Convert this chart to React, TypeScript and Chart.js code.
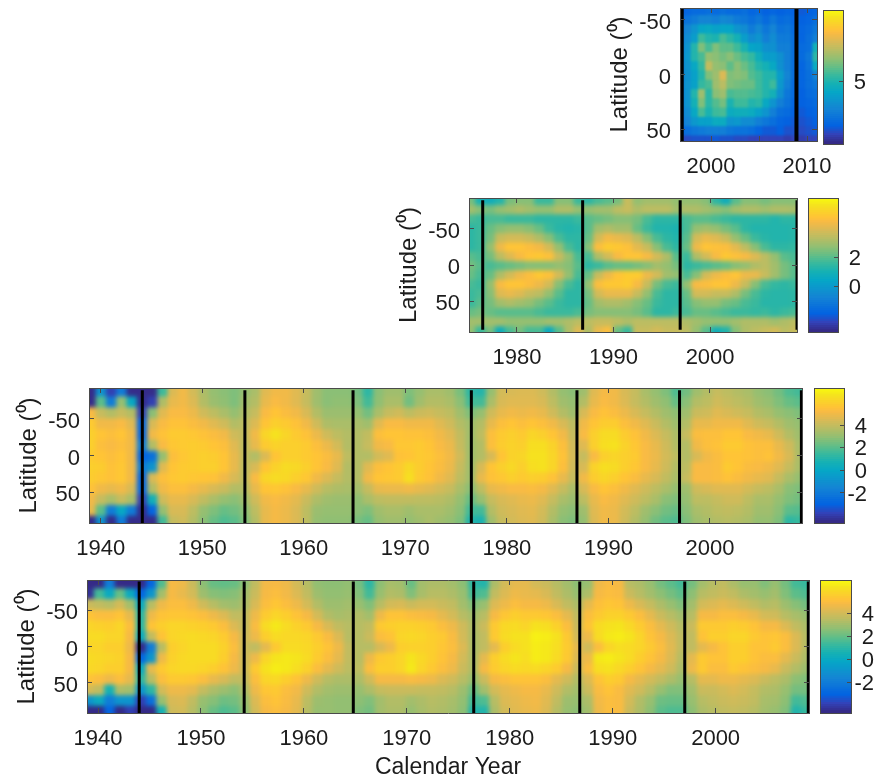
import React, { useEffect, useRef } from "react";
import { Chart, registerables } from "chart.js";
Chart.register(...registerables);

// ---- tick labels and axis limits ----
const latTicks = [-50, 0, 50];
const p1XTicks = [2000, 2005, 2010];
const p1XLabels = [2000, 2010];
const p2XTicks = [1980, 1990, 2000];
const longXTicks = [1940, 1950, 1960, 1970, 1980, 1990, 2000];
const p1Cb = [5];
const p2Cb = [2, 0];
const longCb = [4, 2, 0, -2];

// ---- black vertical cycle markers (year) ----
const p1Marks = [1996.95, 2008.9];
const p2Marks = [1976.45, 1986.8, 1996.9, 2009];
const p3Marks = [1944.1, 1954.2, 1964.85, 1976.5, 1986.9, 1997, 2009];
const p4Marks = [1944.0, 1954.2, 1964.8, 1976.5, 1986.8, 1997, 2009];

// ---- panel 1: 20 columns (1997-2011), 15 latitude bands (-61..61) ----
const p1A = [2.7,2.9,3.0,3.0,3.1,3.0,3.1,3.0,3.0,3.1,2.9,3.0,2.8,2.9,2.8,2.9,2.8,2.7,2.8,2.9];
const p1B = [2.9,3.2,3.4,3.6,3.6,3.5,3.7,3.6,3.4,3.3,3.1,3.3,3.0,3.3,3.0,3.1,2.9,2.8,2.9,3.1];
const p1C = [3.1,3.6,4.0,4.4,4.5,4.3,4.4,4.4,4.0,3.8,3.4,3.7,3.3,3.6,3.2,3.3,3.0,2.9,3.0,3.3];
const p1D = [3.1,3.8,4.2,5.3,5.0,4.9,5.4,5.1,4.8,4.2,3.8,4.0,3.5,3.8,3.4,3.4,3.1,2.9,3.1,3.5];
const p1E = [3.1,4.0,5,5.9,5.4,5.9,5.6,5.6,5.3,4.9,4.4,4.3,3.9,3.9,3.5,3.5,3.1,3.0,3.1,4.8];
const p1F = [3.1,4.1,5,5.4,6.1,6,5.8,6,5.7,5.4,5.2,4.7,4.2,4.2,3.9,3.5,3.1,3.0,3.3,5.1];
const p1G = [3.1,4.0,4.5,5.2,6.6,6.1,6,5.6,6,5.7,5.4,5,4.8,4.5,3.9,3.5,3.1,2.9,3.2,4.6];
const p1H = [3.1,3.9,4.3,5,5.9,6.2,6.9,5.9,6,5.9,5.5,5.3,5,5,4.2,3.6,3.1,2.9,3.1,3.6];
const p1I = [3.1,4.0,4.3,5.2,5.4,6.2,6.5,5.9,5.8,5.7,5.7,5.3,5,5.3,4.1,3.5,3.0,2.9,3.1,3.3];
const p1J = [3.1,4.0,5,6.2,5.1,6,6.2,5.4,5.5,5.5,5.4,5.3,5,4.8,3.9,3.3,3.0,2.8,3.0,3.1];
const p1K = [3.1,4.0,4.8,5.9,5.1,5.5,5.8,4.9,5.3,5.3,5,5.1,4.5,4,3.5,3.2,2.9,2.8,2.9,3.0];
const p1L = [3.1,3.8,4.5,5.4,4.9,5.3,5.4,4.6,4.7,4.7,4.6,4.3,4,3.5,3.1,3.0,2.8,2.7,2.8,2.9];
const p1M = [3.0,3.6,4.1,4.3,4.3,4.6,4.6,4.0,4.1,3.8,3.8,3.5,3.3,3.1,2.9,2.8,2.7,2.6,2.7,2.8];
const p1N = [2.8,3.1,3.3,3.4,3.5,3.5,3.5,3.3,3.2,3.2,3.1,2.9,2.7,2.7,2.8,2.6,2.6,2.5,2.6,2.7];
const p1O = [2.4,2.5,2.6,2.6,2.6,2.7,2.6,2.6,2.5,2.5,2.4,2.4,2.4,2.4,2.4,2.3,2.4,2.3,2.4,2.4];
const p1Rows = [p1A,p1B,p1C,p1D,p1E,p1F,p1G,p1H,p1I,p1J,p1K,p1L,p1M,p1N,p1O];

// ---- panel 2: 34 yearly columns (1975-2008), 15 latitude bands ----
const p2A = [2.4,1,0.8,1.2,2.4,2.6,2.6,1.6,1.6,2.6,2.6,1.6,1.4,1.8,2,2.4,3.6,2.8,3,3,3,2.8,2.8,2.8,2.6,1.4,0.8,2,2.6,2.6,2.4,2.6,2.6,2.6];
const p2B = [3,2.6,2.4,2.8,3,3.2,3,2.8,2.8,3.2,3.2,2.8,2.8,3,3,3.4,3.6,3.2,3.4,3.4,3.4,3,3.2,3.2,3,2.8,2.6,3,3.2,3.2,3,3.2,3.2,3.1];
const p2C = [1.8,1.6,1.8,1.8,1.6,1.6,1.6,1.4,1.4,1.4,1.4,1.6,2,2.2,2.4,2.6,2.6,2.4,1.8,1.4,1.4,1.4,1.8,2,2,1.8,1.6,1.4,1.4,1.4,1.4,1.2,1.4,1.4];
const p2D = [1.4,1.6,2.2,2.6,2.8,2.8,2.6,2.2,1.6,1.3,1.2,1.3,2,3.0,3.2,3.0,3,2.2,1.6,1.2,1.2,1.1,1.8,2.8,3,2.8,2.4,2,1.4,1.2,1.2,1.2,1.2,1.3];
const p2E = [1.4,1.6,2.4,3.6,3.8,3.8,3.6,3.2,2.6,1.8,1.4,1.4,2.2,3.8,4.4,4.2,4,3.4,2.6,1.8,1.4,1.2,2,3.8,4.2,4,3.6,2.8,2.2,1.6,1.3,1.2,1.2,1.3];
const p2F = [1.4,1.6,2.8,4.3,4.8,4.8,4.6,4.4,3.8,2.8,1.8,1.4,2.6,4.6,5,4.9,4.7,4.1,3.6,2.6,1.8,1.4,2.2,4.3,4.8,4.7,4.6,4.1,3.4,2.6,1.8,1.4,1.4,1.5];
const p2G = [2,1.8,2.4,3.4,4,4.5,4.8,4.9,4.7,3.6,2.8,1.8,1.8,3.2,3.8,4.5,4.8,4.8,4.5,3.8,3.2,2,1.6,3.2,3.8,4.5,4.9,4.7,4.5,4,3.4,2.8,2,1.8];
const p2H = [2.4,2,1.8,2,2.2,2.4,2.6,2.6,2.6,2.8,2.6,2,1.4,1.6,2,2.2,2.2,2.4,2.6,3,2.8,2.4,1.4,1.6,1.8,2,2.2,2.6,2.8,3.2,3.4,3,2.4,2];
const p2I = [2.2,1.8,2.2,3.2,3.8,4.3,4.6,4.9,4.7,3.8,2.8,1.8,2.2,3.6,4.3,4.8,5,5,4.3,3.8,3,2.8,1.8,2.6,3.8,4.3,4.6,4.8,4.3,4.2,3.6,3,2.4,2];
const p2J = [1.8,1.6,2.8,4.5,4.8,4.8,4.6,4.3,3.8,2.6,1.8,1.4,2.8,4.6,4.9,4.9,5,4.5,3.6,2.4,1.8,1.6,2.8,4.5,4.6,4.8,4.8,4.3,3.6,2.6,1.8,1.5,1.4,1.6];
const p2K = [1.6,1.8,2.6,4,4.2,4,3.6,3.4,2.8,2,1.4,1.4,2.4,3.8,4.2,4.2,4.2,3.6,2.8,1.8,1.4,1.4,2.2,3.8,3.8,3.6,3.6,3.2,2.4,1.8,1.4,1.3,1.3,1.4];
const p2L = [1.6,2,2.4,3,3.2,3.0,2.8,2.4,2,1.6,1.4,1.4,2.2,3,3.2,3.2,3,2.6,2.2,1.6,1.4,1.4,2,2.6,2.8,2.8,2.4,2.2,1.8,1.6,1.3,1.3,1.3,1.4];
const p2M = [2.2,2.4,2.2,2,2,2,2,1.8,1.6,1.6,1.6,1.8,2.4,2.6,2.6,2.6,2.6,2.4,2,1.4,1.4,1.6,1.8,2.2,2.2,2,1.8,1.6,1.6,1.5,1.6,1.4,1.6,1.8];
const p2N = [3,3,3,3,2.8,2.8,2.8,2.8,3,3,3.2,3.4,3.4,3.6,3.6,3.4,3.2,3.4,3.4,3.4,3.4,3.4,3.2,3,2.8,2.8,2.8,3,3.2,3.2,3.2,3,3.2,3.4];
const p2O = [2.8,1.6,2.4,0.8,1.8,2.4,1.8,1.8,0.6,2,3.2,4,3.2,4.2,4.6,2.2,1.6,3.6,3.6,3.8,3.6,3.6,3.4,2.8,2,0.9,1.2,2.6,3.2,3.4,3.6,3.8,3.4,3.6];
const p2Rows = [p2A,p2B,p2C,p2D,p2E,p2F,p2G,p2H,p2I,p2J,p2K,p2L,p2M,p2N,p2O];

// ---- panel 3: 70 yearly columns (1939-2008), 13 latitude bands ----
const p3A = [-4.6,-1,-4,-2,-4.6,-4.6,-4.6,1.5,4.5,5, 4.3,3.5,3,2.8,2.6,3,3.4,4.6,5,5, 4.6,4,3.2,2.8,2.8,2.8,2.4,1.2,2.8,3.2, 3.2,2.6,3,3.4,3.4,3.2,2.5,1.2,1,3, 4.3,4.4,4.5,4.5,4.2,3.6,3,2.8,3.2,4.6, 5.1,5,4.4,4,3.4,3,2.6,1.8,2.4,3.2, 3.6,4,3.8,3.6,3.4,3,2.8,2.4,1.8,1.6];
const p3B = [-4.6,2,-2,3,0,-4.6,-4,3.5,4.8,5, 4.5,3.6,3.1,2.9,2.6,3.2,3.6,4.8,5.2,5, 4.6,4,3.2,2.8,2.9,2.9,2.6,1.6,2.9,3.4, 3.4,2.4,3.2,3.6,3.6,3.4,2.8,1.6,1.6,3.4, 4.4,4.6,4.6,4.6,4.4,3.8,3.2,3,3.6,4.8, 5.2,5,4.5,4,3.6,3.2,2.9,2.2,2.8,3.6, 3.8,4.2,4,3.8,3.6,3.2,3,2.6,2.2,2];
const p3C = [5.2,4,3.6,4,3.6,-4,2.8,4.6,5.2,5.2, 4.9,4.2,3.8,3.4,3,3.5,4,5.2,5.6,5.3, 5,4.4,3.6,3.1,3.1,3.1,3,2.4,3.4,4, 4.2,3.8,4.1,4.2,4,3.8,3.2,2.6,3,4.2, 4.8,5,4.9,5,4.8,4.2,3.6,3.2,4.4,5.2, 5.5,5.3,4.9,4.4,4,3.6,3.2,2.9,3.2,4.1, 4.2,4.6,4.4,4.2,4,3.6,3.4,3,2.8,2.6];
const p3D = [5.8,5,5,5.2,4.6,-3,4.4,5.2,5.5,5.5, 5.3,5,4.6,4.2,3.6,3.8,4.5,5.6,6,5.8, 5.5,5,4.2,3.5,3.4,3.4,3.4,3.2,4.6,5.2, 5.2,5,5,5,4.6,4.2,3.6,3.2,3.6,4.8, 5.4,5.6,5.4,5.6,5.4,5,4.4,3.8,5,5.6, 5.9,5.9,5.4,5,4.6,4.1,3.6,3.2,3.6,4.8, 4.8,5,5,5,4.6,4.2,4,3.6,3.2,3];
const p3E = [6,5.6,5.4,5.6,5,-3,5,5.5,5.8,5.8, 5.7,5.5,5.3,5,4.2,3.9,5,6.2,6.6,6.2, 5.8,5.5,4.9,4.2,3.8,3.6,3.6,3.9,5.4,5.6, 5.6,5.5,5.5,5.4,5,4.6,3.9,3.2,3.8,5.4, 5.8,6,5.8,6.2,6,5.6,5,4,5.2,6, 6.4,6.4,5.9,5.5,5,4.5,4,3.5,4,5.3, 5.4,5.4,5.6,5.6,5.2,5,4.8,4.2,3.6,3.2];
const p3F = [6,5.4,5.2,5.4,5,-2,3.6,5.2,5.7,5.8, 5.9,5.8,5.6,5.4,4.6,3.8,4.8,5.8,6.1,6, 6,5.8,5.4,4.9,4.3,3.6,3.6,4,5,5.2, 5.7,5.7,5.8,5.6,5.2,4.9,4,3.2,3.6,5.4, 5.9,6.1,6,6.5,6.5,6.1,5.4,4.2,4.6,6, 6.5,6.6,6.1,5.7,5.2,4.8,4.2,3.6,3.6,5, 5.4,5.5,5.8,5.8,5.5,5.4,5.4,4.8,4.2,3.4];
const p3G = [5.8,5.6,5.4,5.6,5,-3,-2.5,3,5.4,5.7, 5.9,6,5.9,5.6,4.8,3.9,3.6,4.5,5.6,6, 6,5.8,5.6,5.3,4.8,3.8,3.6,3.6,4.3,4.6, 5.5,5.6,5.8,5.7,5.4,5,4.2,3.2,3.6,4.4, 5.6,6.1,6.2,6.6,6.6,6.2,5.5,4.3,4,5.2, 6,6.2,6,5.8,5.2,4.9,4.3,3.8,3.6,4.4, 5,5.3,5.6,5.6,5.5,5.4,5.5,5,4.4,3.5];
const p3H = [6,5.9,5.5,5.7,5,-2,-1,4.6,5.6,5.8, 5.9,6,6,5.6,4.8,3.8,4.4,5.6,6.1,6.4, 6.3,6,5.6,5.2,4.6,3.6,3.6,4.6,5.4,5.6, 5.8,6.3,5.9,5.6,5.3,4.9,4,3.2,4.4,5.6, 6,6.3,6,6.5,6.6,6.2,5.4,4.2,4.4,6.1, 6.5,6.4,6,5.7,5.2,4.8,4.2,3.6,3.8,5.2, 5.2,5.3,5.8,5.6,5.3,5.2,5,4.6,4,3.4];
const p3I = [5.9,5.7,5.5,5.7,5,-3,4.4,5.4,5.7,5.8, 5.7,5.6,5.5,5,4.4,3.8,5.2,6.2,6.4,6.3, 6,5.7,5,4.5,4,3.6,3.6,5,5.6,5.7, 5.8,6.5,5.8,5.5,5,4.6,3.8,3.2,4.8,5.5, 5.7,6,5.8,6,5.9,5.5,4.8,4,5,5.9, 6.2,6,5.6,5.3,4.8,4.4,3.9,3.4,4,5.2, 5.2,5.3,5.5,5.3,5,4.8,4.6,4,3.4,3];
const p3J = [5.5,5,4.8,5,4.4,-3,3.6,5,5.4,5.4, 5.1,4.8,4.4,4.1,3.6,3.6,4.8,5.6,5.7,5.5, 5.2,4.8,4.2,3.7,3.5,3.4,3.3,4,4.8,4.9, 4.9,5,4.8,4.6,4.3,4,3.4,2.8,3.8,4.8, 5,5.2,5.2,5.3,5.1,4.6,4,3.4,4.4,5.2, 5.6,5.4,5,4.6,4.2,3.8,3.4,3,3.2,4.2, 4.4,4.6,4.6,4.6,4.3,4,3.8,3.4,2.8,2.6];
const p3K = [5,4,3.4,4,3.4,-4,0.5,4.2,4.8,4.8, 4.4,3.9,3.4,3,2.8,3.2,4.2,5,5.2,5, 4.7,4.1,3.5,3.2,3.1,3.1,2.9,3.4,3.8,3.9, 3.9,3.9,3.8,3.8,3.7,3.5,3,2.2,3,4, 4.4,4.6,4.8,4.9,4.6,4,3.4,3.1,3.8,4.8, 5.2,5,4.6,4.2,3.8,3.4,2.8,2.6,3,3.8, 3.8,4,4.2,4.2,3.8,3.4,3.4,3,2.6,2.4];
const p3L = [4.8,2,-2,0,-2,-4.6,-3,3,4.4,4.4, 3.8,3,2.6,2.2,2.4,2.8,3.8,4.8,5.1,4.9, 4.5,3.8,3.1,3,3,3,2.8,2.6,3.2,3.4, 3.4,3.2,3.4,3.4,3.4,3.2,2.8,1.6,1.6,3.6, 4.2,4.4,4.6,4.7,4.3,3.6,3,2.8,3.2,4.6, 5,4.9,4.3,3.8,3.2,2.8,2.4,2.2,2.8,3.4, 3.6,3.8,3.9,3.8,3.6,3.2,3.2,2.8,2,1.9];
const p3M = [-4.6,-1,-4.6,-2,-4.6,-4.6,-4.6,1.6,4,4.2, 3.6,2.8,2.2,1.8,2,2.6,3.6,4.8,5.1,4.9, 4.5,3.8,3,2.9,2.9,2.9,2.5,2.2,3,3.2, 3.2,3,3.2,3.4,3.2,3,2.6,1,0.8,3.2, 4,4.3,4.5,4.6,4.2,3.4,2.8,2.6,3,4.5, 5,4.9,4.2,3.6,3,2.4,2,1.8,2.6,3.2, 3.4,3.6,3.7,3.6,3.4,3,3,2.6,1.2,1.4];
const p3Rows = [p3A,p3B,p3C,p3D,p3E,p3F,p3G,p3H,p3I,p3J,p3K,p3L,p3M];

// ---- panel 4: 70 yearly columns (1939-2008), 13 latitude bands ----
const p4A = [-4.6,-4.6,-2,-4.6,-4.6,-4.6,-3,1.6,4.8,4.6, 3.8,2.6,2,1.9,2,2.6,3.6,4.7,4.8,4.6, 4,3.4,2.7,2.6,2.6,2.7,2.2,1,2.6,3.1, 3,2,3,3.2,3.2,3,2.6,1,0.8,3.2, 4,4.4,4.4,4,3.8,3.4,3,2.6,2.8,4.6, 4.9,4.8,3.4,3.2,2.8,2.2,1.8,1.4,2.2,3, 3.4,3.6,3.2,2.8,2.8,2.4,2.8,2.2,1.4,1.2];
const p4B = [-4.4,1.4,0,2,0,-3,-1,3,4.8,4.5, 4,2.9,2.5,2.4,2.5,3,3.8,4.8,5,4.7, 4.2,3.6,2.9,2.7,2.7,2.8,2.4,1.4,2.8,3.3, 3.2,2.4,3.1,3.4,3.4,3.2,2.8,1.4,1.6,3.6, 4.2,4.6,4.5,4.4,4.1,3.6,3.2,2.8,3.2,4.8, 5,4.9,3.8,3.4,3,2.6,2.2,1.8,2.6,3.4, 3.6,3.8,3.6,3.2,3,2.8,3,2.4,1.8,1.6];
const p4C = [3.8,3.6,3.4,4,3,0,3.4,4.6,5,5, 4.6,3.9,3.4,3,2.9,3.2,4.1,5,5.3,5, 4.6,4,3.3,2.9,2.9,3,2.8,2.4,3.4,4, 4.1,3.8,4,4,3.8,3.6,3,2.4,2.8,4.2, 4.6,5,4.8,4.8,4.6,4.1,3.6,3.2,4.4,5.1, 5.3,5.2,4.6,4.1,3.7,3.2,2.8,2.4,3,4, 4.2,4.4,4.2,3.9,3.6,3.3,3.4,2.9,2.5,2.2];
const p4D = [5.2,5,5,5.2,4.4,1,4.6,5.2,5.3,5.3, 5.2,5,4.6,4.2,3.6,3.6,4.6,5.5,5.8,5.6, 5.2,4.8,4,3.3,3.1,3.2,3.3,3,4.6,5.2, 5.2,5,4.9,4.8,4.4,4,3.4,3,3.4,4.8, 5.3,5.6,5.4,5.4,5.3,5,4.4,3.6,5,5.4, 5.7,5.7,5.4,5,4.4,3.8,3.4,3,3.4,4.8, 4.8,5,5,4.8,4.5,4,3.9,3.4,3.1,2.8];
const p4E = [5.8,5.7,5.6,5.8,5,1,5.2,5.6,5.8,5.8, 5.7,5.6,5.4,5,4.2,3.6,4.9,6,6.4,6, 5.7,5.4,4.8,4.1,3.6,3.4,3.4,3.6,5.4,5.6, 5.7,5.7,5.6,5.4,5,4.6,3.9,3.2,3.8,5.4, 5.9,6,5.8,6.2,6.1,5.7,5,3.8,5.2,6, 6.2,6.3,5.9,5.5,5,4.4,3.9,3.4,3.8,5.4, 5.4,5.4,5.6,5.5,5.2,4.8,4.8,4.2,3.6,3.2];
const p4F = [6,6,5.8,5.8,4.8,0,3.6,5.2,5.8,5.9, 6,5.9,5.8,5.5,4.8,3.8,4.6,5.6,6,5.9, 5.9,5.8,5.4,4.9,4.2,3.4,3.4,3.8,5,5.2, 5.8,5.9,5.8,5.6,5.4,4.9,4,3.2,3.6,5.4, 6,6.2,6.2,6.6,6.5,6.2,5.4,4,4.6,6, 6.4,6.5,6.3,5.8,5.2,4.8,4.2,3.6,3.6,5.2, 5.6,5.6,5.8,5.8,5.4,5.2,5.3,5,4.2,3.4];
const p4G = [5.8,5.8,5.6,5.6,4.6,-4.6,-2,3.4,5.6,5.8, 6,6,6,5.7,5,3.8,3.6,4.4,5.4,6, 6,5.9,5.6,5.2,4.6,3.6,3.4,3.4,4.1,4.6, 5.6,5.7,5.7,5.6,5.3,5,4.2,3.2,3.6,4.4, 5.6,6,6.2,6.5,6.4,6.1,5.5,4.4,3.9,5, 5.8,6.1,6,5.8,5.4,5,4.3,3.6,3.6,4.4, 4.8,5.2,5.6,5.6,5.2,5.2,5.4,5,4.2,3.4];
const p4H = [6,5.9,5.8,5.7,4.8,-3,-1,4.6,5.7,5.9, 6,6,6,5.6,4.8,3.8,4.6,5.8,6.3,6.4, 6.3,6,5.5,5,4.4,3.6,3.4,4.6,5.4,5.6, 5.8,6.3,5.9,5.6,5.2,4.8,4,3.2,4.4,5.6, 6,6.3,6.1,6.5,6.4,6,5.4,4.2,4.6,6.4, 6.5,6.3,6,5.6,5.2,4.8,4.2,3.4,4.4,5.4, 5.2,5.2,5.6,5.6,5.2,5,5,4.4,3.8,3.2];
const p4I = [5.9,5.8,5.6,5.6,4.8,0,4.4,5.4,5.8,5.9, 5.9,5.8,5.6,5.2,4.6,3.8,5.4,6.2,6.5,6.4, 6.1,5.7,5,4.4,3.9,3.5,3.5,5,5.6,5.6, 5.8,6.4,5.8,5.4,5,4.6,3.8,3.2,4.8,5.5, 5.8,6,5.9,6,5.8,5.5,4.8,3.8,5,6.1, 6.2,5.9,5.6,5.2,4.8,4.4,3.9,3.2,4.6,5.4, 5,5,5.4,5.2,5,4.8,4.5,3.8,3.3,2.9];
const p4J = [5.2,5,4.6,5,4.4,1,3.4,5,5.4,5.4, 5.3,5,4.5,4.1,3.6,3.6,5,5.8,5.9,5.6, 5.2,4.6,3.9,3.4,3.2,3.2,3.2,3.9,4.8,4.8, 4.8,4.9,4.8,4.6,4.2,3.9,3.4,2.8,3.8,4.8, 5,5.2,5.2,5.2,5,4.4,3.9,3.3,4.2,5.2, 5.6,5.4,4.8,4.4,4,3.6,3.2,2.8,3.4,4.4, 4.4,4.6,4.6,4.4,4.2,3.8,3.5,3.2,2.6,2.4];
const p4K = [4,3.6,0.5,3.2,3,-1,1,4,4.6,4.6, 4.4,3.7,3.2,2.9,2.6,3.2,4.6,5.3,5.4,5, 4.7,3.9,3.3,3,2.9,2.9,2.8,3.2,3.7,3.8, 3.8,3.8,3.7,3.7,3.6,3.4,2.9,2,3,4, 4.4,4.6,4.8,4.8,4.5,3.9,3.3,3,3.8,4.9, 5.2,4.9,4.3,3.9,3.4,2.8,2.4,2.4,3,3.8, 3.8,4,4.2,4,3.7,3.3,3.2,2.8,2.2,2.2];
const p4L = [-1,0,-2,-1,-1,-4,-2.6,2.8,4.1,4.2, 3.6,2.8,2.5,2.1,2.2,2.8,4.2,5,5.2,4.9, 4.5,3.5,2.9,2.8,2.7,2.7,2.6,2.4,3,3.3, 3.3,3,3.2,3.4,3.3,3.1,2.7,1.4,1.6,3.4, 4.2,4.4,4.6,4.7,4.3,3.6,2.9,2.8,3.2,4.7, 5,4.9,4,3.3,2.8,2.1,2,2,2.8,3.4, 3.6,3.8,3.9,3.8,3.6,3.1,3,2.6,1.4,1.6];
const p4M = [-4.6,-4.6,-3,-4.6,-4,-4.6,-4.6,0.5,3.9,4, 3.4,2.6,2,1.6,1.8,2.6,4,4.8,5,4.8, 4.4,3.4,2.8,2.8,2.7,2.7,2.4,2.2,3,3.2, 3.2,2.8,3.1,3.3,3.2,3,2.6,0.8,0.8,3.2, 4,4.3,4.5,4.6,4.2,3.4,2.8,2.6,3,4.6, 5,4.9,3.8,3.2,2.6,1.8,1.6,1.6,2.6,3.2, 3.4,3.6,3.7,3.6,3.4,3,2.8,2.4,0.8,1.2];
const p4Rows = [p4A,p4B,p4C,p4D,p4E,p4F,p4G,p4H,p4I,p4J,p4K,p4L,p4M];

// ---- colour bar steps (index into the 64-step map) ----
const colorSteps = [0,1,2,3,4,5,6,7,8,9,10,11,12,13,14,15,16,17,18,19,20,21,22,23,24,25,26,27,28,29,30,31,32,33,34,35,36,37,38,39,40,41,42,43,44,45,46,47,48,49,50,51,52,53,54,55,56,57,58,59,60,61,62,63];

// parula stops: [index of 63, r, g, b]
const parulaStops = [
  [0,.2081,.1663,.5292],[4,.1959,.2645,.7279],[8,.0117,.3875,.882],[16,.0793,.52,.8312],[24,.0228,.6535,.7768],
  [28,.0843,.6928,.7062],[32,.2178,.725,.6193],[36,.3953,.7459,.5244],[40,.5709,.7485,.4494],[44,.7184,.7411,.3905],
  [48,.8507,.7299,.336],[52,.9739,.7314,.2666],[54,.999,.7653,.2164],[56,.988,.8066,.1794],[60,.9589,.8949,.1132],[63,.9763,.9831,.0538],
];
function parula(f: number) {
  const t = Math.max(0, Math.min(1, f)) * 63;
  for (let i = 1; i < parulaStops.length; i++) {
    const a = parulaStops[i - 1], b = parulaStops[i];
    if (t <= b[0]) {
      const k = (t - a[0]) / (b[0] - a[0]);
      const c = [1, 2, 3].map((j) => Math.round(255 * (a[j] + (b[j] - a[j]) * k)));
      return `rgb(${c[0]},${c[1]},${c[2]})`;
    }
  }
  return "#f9fb0e";
}

const FONT = "'Liberation Sans', Arial, sans-serif";
const INK = "#1c1c1c";
const EDGE = "#4a4a4a";
const W = 874, H = 781;

function fixedTicks(values: number[]) {
  return (s: any) => { s.ticks = values.map((value) => ({ value })); };
}
function axisBase(min: number, max: number, ticks: number[], size: number, tickLen: number) {
  return {
    type: "linear", min, max, offset: false,
    afterBuildTicks: fixedTicks(ticks),
    grid: { display: true, offset: false, drawOnChartArea: false, drawTicks: tickLen !== 0, tickLength: tickLen, tickColor: EDGE, tickWidth: 1, z: 2 },
    border: { display: true, color: EDGE, width: 1, z: 2 },
    ticks: { display: false, autoSkip: false, maxRotation: 0, minRotation: 0, z: 2 },
    afterFit: (s: any) => {
      if (s.isHorizontal()) s.height = size; else s.width = size;
      s.paddingLeft = s.paddingRight = s.paddingTop = s.paddingBottom = 0;
    },
  };
}
function heatSets(rows: number[][], xMin: number, xMax: number, yMin: number, yMax: number, cMin: number, cMax: number, xs?: number[]) {
  const n = rows[0].length, bandH = (yMax - yMin) / rows.length, w = (xMax - xMin) / n;
  return rows.map((row, r) => ({
    type: "bar", order: 2, grouped: false, barPercentage: 1, categoryPercentage: 1, borderWidth: 0, inflateAmount: 0.6,
    data: row.map((v, i) => ({ x: xs ? xs[i] : xMin + (i + 0.5) * w, y: [yMin + r * bandH, yMin + (r + 1) * bandH], v })),
    backgroundColor: (c: any) => parula(((c.raw ? c.raw.v : 0) - cMin) / (cMax - cMin)),
  }));
}
function markSets(marks: number[], y0: number, y1: number, width: number) {
  return marks.map((yr) => ({
    type: "line", order: 1, borderColor: "#000", borderWidth: width, pointRadius: 0,
    data: [{ x: yr, y: y0 }, { x: yr, y: y1 }],
  }));
}
// softens the cell edges of the heat map once its bars are drawn, before the marker lines
function softenPlugin(sigma: number) {
  let done = false;
  return {
    id: "soften",
    beforeDraw() { done = false; },
    beforeDatasetDraw(chart: any, args: any) {
      if (done || args.meta.type !== "line") return;
      done = true;
      const { left, top, width, height } = chart.chartArea;
      const tmp = document.createElement("canvas");
      tmp.width = width; tmp.height = height;
      tmp.getContext("2d")!.drawImage(chart.canvas, left, top, width, height, 0, 0, width, height);
      const ctx = chart.ctx;
      ctx.save();
      ctx.beginPath(); ctx.rect(left, top, width, height); ctx.clip();
      ctx.filter = `blur(${sigma}px)`;
      ctx.drawImage(tmp, left - 3, top - 3, width + 6, height + 6);
      ctx.restore();
    },
  };
}
function shiftLabels(s: any, dy: number) {
  if (s.__shifted) return;
  s.__shifted = true;
  const orig = s._computeLabelItems.bind(s);
  s._computeLabelItems = (area: any) => orig(area).map((it: any) => ({ ...it, textOffset: it.textOffset + dy }));
}

function panelConfig(p: any) {
  const tl = -5;
  const x: any = axisBase(p.xMin, p.xMax, p.xTicks, p.xSize, tl);
  x.position = "bottom";
  x.ticks = { ...x.ticks, display: true, padding: p.xPad, color: INK, font: { family: FONT, size: 22 },
    callback: (v: number) => (p.xLabels.includes(v) ? String(v) : "") };
  if (p.xTitle) x.title = { display: true, text: p.xTitle, color: INK, font: { family: FONT, size: 23, lineHeight: 1 }, padding: 0 };
  const y: any = axisBase(p.yMin, p.yMax, latTicks, 73, tl);
  const yFit = y.afterFit;
  y.afterFit = (s: any) => { yFit(s); shiftLabels(s, 3); };
  y.position = "left"; y.reverse = true;
  y.ticks = { ...y.ticks, display: true, padding: 14, color: INK, font: { family: FONT, size: 22 }, callback: (v: number) => String(v) };
  y.title = { display: true, text: "Latitude (\u2070)", color: INK, font: { family: FONT, size: 24, lineHeight: 1.1 }, padding: 0 };
  const xTop: any = axisBase(p.xMin, p.xMax, p.xTicks, 0, tl); xTop.position = "top";
  const yRight: any = axisBase(p.yMin, p.yMax, latTicks, 0, tl); yRight.position = "right"; yRight.reverse = true;
  return {
    data: { datasets: [...heatSets(p.rows, p.xMin, p.xMax, p.yMin, p.yMax, p.cMin, p.cMax, p.xs), ...markSets(p.marks, p.m0, p.m1, p.markW)] },
    options: {
      responsive: false, maintainAspectRatio: false, animation: false, events: [],
      layout: { padding: { left: p.l - 73, top: p.t, right: W - p.r, bottom: H - p.b - p.xSize } },
      plugins: { legend: { display: false }, tooltip: { enabled: false } },
      scales: { x, y, xTop, yRight },
    },
    plugins: [softenPlugin(p.soft)],
  };
}
function barConfig(p: any) {
  const y: any = axisBase(p.cMin, p.cMax, p.ticks, 23, -4);
  const yFit = y.afterFit;
  y.afterFit = (s: any) => { yFit(s); shiftLabels(s, 1.5); };
  y.position = "right";
  y.ticks = { ...y.ticks, display: true, padding: p.pad, color: INK, crossAlign: "far", font: { family: FONT, size: 22 }, callback: (v: number) => String(v) };
  const yLeft: any = axisBase(p.cMin, p.cMax, [], 0, 0); yLeft.position = "left";
  const x: any = axisBase(0, 1, [0, 1], 0, 0); x.position = "bottom";
  const xTop: any = axisBase(0, 1, [0, 1], 0, 0); xTop.position = "top";
  const rows = [...colorSteps].map((s) => [p.cMin + (s / 63) * (p.cMax - p.cMin)]);
  return {
    data: { datasets: heatSets(rows, 0, 1, p.cMin, p.cMax, p.cMin, p.cMax, [0.5]) },
    options: {
      responsive: false, maintainAspectRatio: false, animation: false, events: [],
      layout: { padding: { left: p.l, top: p.t, right: W - p.r - 23, bottom: H - p.b } },
      plugins: { legend: { display: false }, tooltip: { enabled: false } },
      scales: { x, xTop, y, yLeft },
    },
  };
}

const p1Xs = [1997.13,1997.84,1998.55,1999.27,1999.98,2000.7,2001.41,2002.12,2002.84,2003.55,2004.27,2004.98,2005.7,2006.41,2007.12,2007.84,2008.55,2009.27,2009.98,2010.69];

const panels = [
  { l: 680, r: 817, t: 8, b: 141, soft: 1, xMin: 1996.77, xMax: 2011.04, yMin: -61, yMax: 61, rows: p1Rows, xs: p1Xs, cMin: 2, cMax: 8.4, marks: p1Marks, m0: -61, m1: 61, markW: 4, xTicks: p1XTicks, xLabels: p1XLabels, xSize: 50, xPad: 18 },
  { l: 469, r: 797, t: 198, b: 332, soft: 2, xMin: 1975.03, xMax: 2009, yMin: -92, yMax: 92, rows: p2Rows, cMin: -3.1, cMax: 6.1, marks: p2Marks, m0: -89, m1: 89, markW: 3, xTicks: p2XTicks, xLabels: p2XTicks, xSize: 50, xPad: 18 },
  { l: 89, r: 802, t: 388, b: 523, soft: 2, xMin: 1938.85, xMax: 2009.06, yMin: -92, yMax: 92, rows: p3Rows, cMin: -4.65, cMax: 7.27, marks: p3Marks, m0: -89, m1: 92, markW: 3, xTicks: longXTicks, xLabels: longXTicks, xSize: 50, xPad: 18 },
  { l: 87, r: 809, t: 580, b: 713, soft: 2, xMin: 1938.93, xMax: 2009.07, yMin: -92, yMax: 92, rows: p4Rows, cMin: -4.6, cMax: 6.85, marks: p4Marks, m0: -90, m1: 92, markW: 3, xTicks: longXTicks, xLabels: longXTicks, xSize: 66, xPad: 18, xTitle: "Calendar Year" },
];
const bars = [
  { l: 823, r: 843, t: 10, b: 144, cMin: 2, cMax: 8.4, ticks: p1Cb, pad: 10 },
  { l: 808, r: 838, t: 198, b: 332, cMin: -3.1, cMax: 6.1, ticks: p2Cb, pad: 10 },
  { l: 814, r: 844, t: 388, b: 523, cMin: -4.65, cMax: 7.27, ticks: longCb, pad: 12 },
  { l: 820, r: 851, t: 580, b: 713, cMin: -4.6, cMax: 6.85, ticks: longCb, pad: 11 },
];

export default function App() {
  const refs = useRef<(HTMLCanvasElement | null)[]>([]);
  useEffect(() => {
    const configs = [...panels.map(panelConfig), ...bars.map(barConfig)];
    const charts = configs.map((cfg: any, i) => new Chart(refs.current[i] as HTMLCanvasElement, cfg));
    return () => charts.forEach((c) => c.destroy());
  }, []);
  return (
    <div style={{ position: "absolute", left: 0, top: 0, width: W, height: H, overflow: "hidden", background: "#fff" }}>
      {Array.from({ length: panels.length + bars.length }).map((_, i) => (
        <canvas key={i} ref={(el) => { refs.current[i] = el; }} width={W} height={H}
          style={{ position: "absolute", left: 0, top: 0, width: W, height: H }} />
      ))}
    </div>
  );
}
